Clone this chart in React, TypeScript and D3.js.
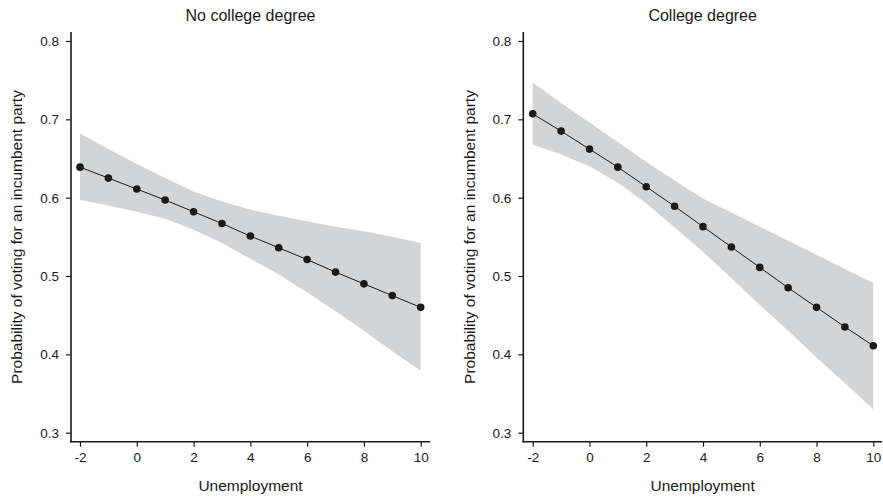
import React, { useRef, useEffect } from "react";
import * as d3 from "d3";

// unemployment values on the x axis
const unemployment = [-2, -1, 0, 1, 2, 3, 4, 5, 6, 7, 8, 9, 10];

// No college degree
const noCollegeFit = [0.639, 0.625, 0.611, 0.597, 0.582, 0.567, 0.551, 0.536, 0.521, 0.505, 0.49, 0.475, 0.46];
const noCollegeUpper = [0.682, 0.662, 0.643, 0.625, 0.608, 0.595, 0.585, 0.577, 0.57, 0.563, 0.557, 0.55, 0.542];
const noCollegeLower = [0.597, 0.59, 0.582, 0.573, 0.559, 0.542, 0.522, 0.502, 0.479, 0.455, 0.43, 0.404, 0.379];

// College degree
const collegeFit = [0.707, 0.685, 0.662, 0.639, 0.614, 0.589, 0.563, 0.537, 0.511, 0.485, 0.46, 0.435, 0.411];
const collegeUpper = [0.747, 0.721, 0.696, 0.671, 0.646, 0.622, 0.599, 0.581, 0.563, 0.545, 0.527, 0.509, 0.491];
const collegeLower = [0.668, 0.655, 0.64, 0.619, 0.593, 0.562, 0.531, 0.497, 0.463, 0.43, 0.396, 0.363, 0.33];

const xTicks = [-2, 0, 2, 4, 6, 8, 10];
const yTicks = [0.3, 0.4, 0.5, 0.6, 0.7, 0.8];

const panels = [
  { title: "No college degree", fit: noCollegeFit, upper: noCollegeUpper, lower: noCollegeLower, axisX: 71, x0: 80, x1: 420.7, axisEnd: 430, labelX: 22 },
  { title: "College degree", fit: collegeFit, upper: collegeUpper, lower: collegeLower, axisX: 523.3, x0: 532.7, x1: 873.3, axisEnd: 882, labelX: 475 },
];

const FONT = "'Liberation Sans', Arial, sans-serif";
const INK = "#1a1a1a";

export default function App() {
  const svgRef = useRef<SVGSVGElement>(null);

  useEffect(() => {
    const svg = d3.select(svgRef.current);
    svg.selectAll("*").remove();

    const yScale = d3.scaleLinear().domain([0.3, 0.8]).range([432.7, 41]);
    const axisY = 441.7;

    panels.forEach((p) => {
      const xScale = d3.scaleLinear().domain([-2, 10]).range([p.x0, p.x1]);
      const g = svg.append("g");

      // confidence band
      const band = d3
        .area<number>()
        .x((d) => xScale(d))
        .y0((d, i) => yScale(p.lower[i]))
        .y1((d, i) => yScale(p.upper[i]));
      g.append("path").datum(unemployment).attr("d", band).attr("fill", "#d3d4d6");

      // fitted line
      const line = d3
        .line<number>()
        .x((d) => xScale(d))
        .y((d, i) => yScale(p.fit[i]));
      g.append("path").datum(unemployment).attr("d", line).attr("fill", "none").attr("stroke", INK).attr("stroke-width", 1);

      g.selectAll(".dot")
        .data(unemployment)
        .join("circle")
        .attr("cx", (d) => xScale(d))
        .attr("cy", (d, i) => yScale(p.fit[i]))
        .attr("r", 3.8)
        .attr("fill", INK);

      // y axis
      const yAxis = d3.axisLeft(yScale).tickValues(yTicks).tickFormat(d3.format(".1f")).tickSize(5).tickSizeOuter(0).tickPadding(7);
      const ya = g.append("g").attr("transform", `translate(${p.axisX},0)`).call(yAxis);
      ya.select(".domain").remove();
      ya.selectAll("line").attr("stroke", INK).attr("stroke-width", 1.2);
      ya.selectAll("text").attr("font-family", FONT).attr("font-size", 13.5).attr("fill", INK);
      g.append("line")
        .attr("x1", p.axisX).attr("x2", p.axisX)
        .attr("y1", 32).attr("y2", axisY + 0.8)
        .attr("stroke", INK).attr("stroke-width", 1.6);

      // x axis (plain hyphen for negatives, as in the original)
      const xAxis = d3.axisBottom(xScale).tickValues(xTicks).tickFormat((d) => String(d)).tickSize(5).tickSizeOuter(0).tickPadding(6);
      const xa = g.append("g").attr("transform", `translate(0,${axisY})`).call(xAxis);
      xa.select(".domain").remove();
      xa.selectAll("line").attr("stroke", INK).attr("stroke-width", 1.2);
      xa.selectAll("text").attr("font-family", FONT).attr("font-size", 13.5).attr("fill", INK);
      g.append("line")
        .attr("x1", p.axisX - 0.8).attr("x2", p.axisEnd)
        .attr("y1", axisY).attr("y2", axisY)
        .attr("stroke", INK).attr("stroke-width", 1.6);

      // titles
      g.append("text")
        .attr("x", (p.axisX + p.axisEnd) / 2)
        .attr("y", 21)
        .attr("text-anchor", "middle")
        .attr("font-family", FONT)
        .attr("font-size", 16)
        .attr("fill", INK)
        .text(p.title);

      g.append("text")
        .attr("x", (p.axisX + p.axisEnd) / 2)
        .attr("y", 491)
        .attr("text-anchor", "middle")
        .attr("font-family", FONT)
        .attr("font-size", 15.5)
        .attr("fill", INK)
        .text("Unemployment");

      g.append("text")
        .attr("transform", `translate(${p.labelX},237) rotate(-90)`)
        .attr("text-anchor", "middle")
        .attr("font-family", FONT)
        .attr("font-size", 15.5)
        .attr("fill", INK)
        .text("Probability of voting for an incumbent party");
    });
  }, []);

  return (
    <svg
      ref={svgRef}
      width={883}
      height={497}
      style={{ position: "absolute", left: 0, top: 0, background: "#fff" }}
    />
  );
}
